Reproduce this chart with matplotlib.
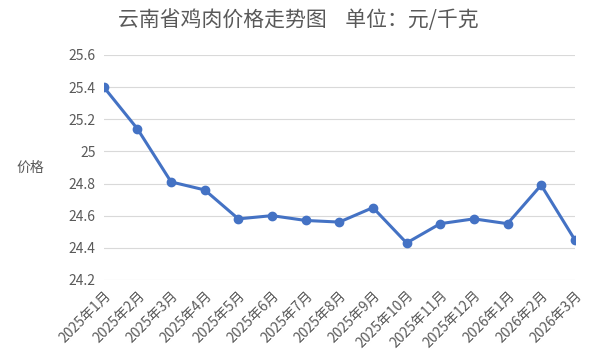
import matplotlib
matplotlib.use("Agg")
import matplotlib.pyplot as plt

plt.rcParams['font.family'] = ['Noto Sans CJK SC', 'DejaVu Sans']

months = ["2025年1月", "2025年2月", "2025年3月", "2025年4月", "2025年5月",
          "2025年6月", "2025年7月", "2025年8月", "2025年9月", "2025年10月",
          "2025年11月", "2025年12月", "2026年1月", "2026年2月", "2026年3月"]
prices = [25.40, 25.14, 24.81, 24.76, 24.58, 24.60, 24.57, 24.56, 24.65,
          24.43, 24.55, 24.58, 24.55, 24.79, 24.45]
yticks = [24.2, 24.4, 24.6, 24.8, 25.0, 25.2, 25.4, 25.6]
ytick_labels = ["24.2", "24.4", "24.6", "24.8", "25", "25.2", "25.4", "25.6"]

grey = "#595959"
fig = plt.figure(figsize=(6, 3.64), dpi=100)
ax = fig.add_axes([0.173, 0.231, 0.785, 0.618])

x = list(range(len(months)))
ax.plot(x, prices, color="#4472C4", lw=2.2, marker="o", ms=6, zorder=3)

ax.set_xlim(0, len(months) - 1)
ax.set_ylim(24.2, 25.6)
ax.set_yticks(yticks)
ax.set_yticklabels(ytick_labels, fontsize=10, color=grey)
ax.set_xticks(x)
ax.set_xticklabels(months, rotation=45, ha="right", va="top",
                   rotation_mode="anchor", fontsize=10, color=grey)
ax.tick_params(length=0, pad=6)
ax.grid(axis="y", color="#D9D9D9", lw=0.8)
for s in ax.spines.values():
    s.set_visible(False)

fig.text(0.497, 0.945, "云南省鸡肉价格走势图    单位：元/千克", ha="center", va="center",
         fontsize=15, color=grey)
fig.text(0.05, 0.54, "价格", ha="center", va="center", fontsize=10, color=grey)

fig.savefig("out.png", dpi=100)
